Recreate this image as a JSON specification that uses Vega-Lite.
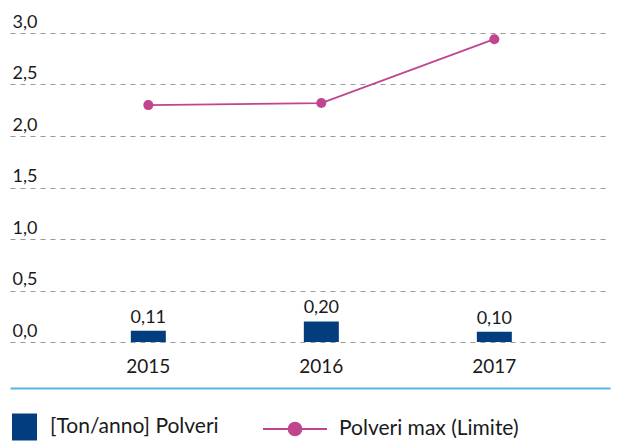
{
  "$schema": "https://vega.github.io/schema/vega-lite/v6.json",
  "width": 600,
  "height": 309,
  "autosize": {"type": "none"},
  "padding": {"left": 10, "top": 33, "right": 9, "bottom": 99},
  "background": "white",
  "config": {
    "locale": {"number": {"decimal": ",", "thousands": ".", "grouping": [3], "currency": ["€", ""]}},
    "font": "Lato",
    "view": {"stroke": null}
  },
  "data": {
    "values": [
      {"anno": "2015", "polveri": 0.11, "limite": 2.30},
      {"anno": "2016", "polveri": 0.20, "limite": 2.32},
      {"anno": "2017", "polveri": 0.10, "limite": 2.94}
    ]
  },
  "encoding": {
    "x": {
      "field": "anno", "type": "nominal",
      "scale": {"paddingInner": 0, "paddingOuter": 0.234, "align": 0.64},
      "axis": {
        "title": null, "orient": "bottom", "offset": 46, "labelAngle": 0,
        "ticks": false, "tickSize": 0, "labelPadding": -22, "labelBaseline": "middle",
        "labelFontSize": 19, "labelFontWeight": 400, "labelColor": "#1a1a1a", "labelFont": "Lato",
        "domain": true, "domainColor": "#5ab4e3", "domainWidth": 2, "grid": false
      }
    }
  },
  "layer": [
    {
      "mark": {"type": "bar", "size": 35},
      "encoding": {
        "y": {
          "field": "polveri", "type": "quantitative",
          "scale": {"domain": [0, 3], "nice": false},
          "axis": {
            "title": null, "values": [0, 0.5, 1, 1.5, 2, 2.5, 3], "format": ".1f",
            "domain": false, "ticks": false, "tickSize": 0,
            "labelAlign": "left", "labelPadding": -2, "labelBaseline": "alphabetic", "labelOffset": -6,
            "labelFontSize": 18, "labelFontWeight": 400, "labelColor": "#1a1a1a", "labelFont": "Lato",
            "grid": true, "gridColor": "#999999", "gridDash": [5, 5], "gridWidth": 1.2
          }
        },
        "color": {
          "datum": "[Ton/anno] Polveri",
          "scale": {"range": ["#023e7d"]},
          "legend": {
            "title": null, "orient": "none", "legendX": 1, "legendY": 380.5,
            "symbolType": "M-0.926,-1H0.926V1H-0.926Z", "symbolSize": 729,
            "symbolStrokeWidth": 0,
            "labelFontSize": 21, "labelFontWeight": 400, "labelColor": "#1a1a1a", "labelFont": "Lato", "labelOffset": 12,
            "labelLimit": 400
          }
        }
      }
    },
    {
      "mark": {"type": "text", "baseline": "alphabetic", "dy": -8, "fontSize": 18, "fontWeight": 400, "color": "#1a1a1a", "font": "Lato"},
      "encoding": {
        "y": {"field": "polveri", "type": "quantitative"},
        "text": {"field": "polveri", "type": "quantitative", "format": ".2f"}
      }
    },
    {
      "mark": {"type": "line", "strokeWidth": 1.8},
      "encoding": {
        "y": {"field": "limite", "type": "quantitative"},
        "stroke": {
          "datum": "Polveri max (Limite)",
          "scale": {"range": ["#c1448f"]},
          "legend": {
            "title": null, "orient": "none", "legendX": 252, "legendY": 363,
            "symbolType": "M-1,0H1M-0.197,0A0.197,0.197,0,1,1,0.197,0A0.197,0.197,0,1,1,-0.197,0Z",
            "symbolSize": 4096, "symbolStrokeWidth": 2, "symbolFillColor": "#c1448f",
            "labelFontSize": 21, "labelFontWeight": 400, "labelColor": "#1a1a1a", "labelFont": "Lato", "labelOffset": 11,
            "labelLimit": 400,
            "encode": {"symbols": {"update": {"fill": {"value": "#c1448f"}, "stroke": {"value": "#c1448f"}}}}
          }
        }
      }
    },
    {
      "mark": {"type": "point", "filled": true, "size": 100, "color": "#c1448f", "opacity": 1},
      "encoding": {
        "y": {"field": "limite", "type": "quantitative"}
      }
    }
  ]
}
